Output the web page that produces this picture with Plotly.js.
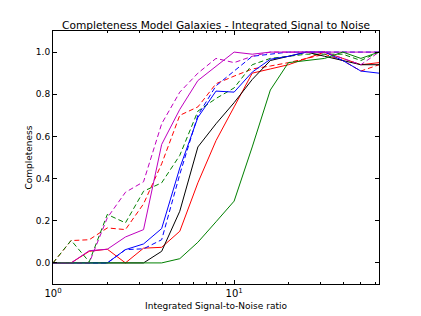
<!DOCTYPE html>
<html><head><meta charset="utf-8">
<script src="https://cdn.plot.ly/plotly-3.0.1.min.js"></script>
<style>html,body{margin:0;padding:0;background:#fff}#chart{width:421px;height:316px}</style>
</head><body><div id="chart"></div>
<script>
// S/N bin positions: 10^(0.1 k), k = 0..18
var snr = [1.0, 1.259, 1.585, 1.995, 2.512, 3.162, 3.981, 5.012, 6.310, 7.943, 10.0, 12.59, 15.85, 19.95, 25.12, 31.62, 39.81, 50.12, 63.10];

var redSolid     = [0, 0, 0.055, 0.065, 0, 0.07, 0.074, 0.15, 0.38, 0.58, 0.74, 0.90, 0.92, 0.94, 0.97, 1.0, 0.97, 0.94, 0.95];
var redDashed    = [0, 0.106, 0.11, 0.166, 0.158, 0.28, 0.47, 0.70, 0.74, 0.85, 0.886, 0.92, 0.934, 0.95, 0.97, 0.99, 0.96, 0.91, 0.94];
var greenDashed  = [0, 0.107, 0.005, 0.23, 0.19, 0.34, 0.38, 0.51, 0.72, 0.78, 0.83, 0.94, 0.97, 0.98, 0.99, 0.99, 0.99, 0.96, 1.0];
var blueSolid    = [0, 0, 0, 0, 0.063, 0.09, 0.163, 0.45, 0.69, 0.815, 0.81, 0.905, 0.966, 0.98, 1.0, 1.0, 0.96, 0.91, 0.90];
var blueDashed   = [0, 0, 0, 0, 0.063, 0.067, 0.11, 0.42, 0.70, 0.84, 0.91, 0.98, 0.99, 1.0, 1.0, 1.0, 1.0, 1.0, 1.0];
var blackSolid   = [0, 0, 0, 0, 0, 0, 0.055, 0.245, 0.55, 0.66, 0.76, 0.87, 0.96, 0.98, 1.0, 0.98, 0.96, 0.94, 0.94];
var magentaSolid = [0, 0, 0.058, 0.065, 0.123, 0.158, 0.562, 0.728, 0.865, 0.934, 1.0, 0.99, 1.0, 1.0, 1.0, 1.0, 1.0, 1.0, 1.0];
var magentaDashed= [0, 0, 0, 0.214, 0.335, 0.385, 0.66, 0.81, 0.90, 0.97, 0.95, 0.98, 1.0, 1.0, 1.0, 1.0, 0.97, 0.94, 1.0];
var greenSolid   = [0, 0, 0, 0, 0, 0, 0, 0.02, 0.098, 0.195, 0.293, 0.55, 0.82, 0.95, 0.96, 0.97, 1.0, 0.97, 1.0];

var xTickVals = [1, 10];
var xTickText = ['10<sup>0</sup>', '10<sup>1</sup>'];
var xMinor = [2,3,4,5,6,7,8,9,20,30,40,50,60];
var yTickVals = [0, 0.2, 0.4, 0.6, 0.8, 1.0];
var yTickText = ['0.0', '0.2', '0.4', '0.6', '0.8', '1.0'];

function tr(y, color, dash) {
  return {x: snr, y: y, type: 'scatter', mode: 'lines',
    line: {color: color, width: 1, dash: dash || 'solid'}, hoverinfo: 'skip'};
}
var data = [
  tr(redSolid, '#ff0000'),
  tr(redDashed, '#ff0000', '5px,3px'),
  tr(greenDashed, '#008000', '5px,3px'),
  tr(blackSolid, '#000000'),
  tr(blueSolid, '#0000ff'),
  tr(blueDashed, '#0000ff', '5px,3px'),
  tr(magentaSolid, '#bf00bf'),
  tr(magentaDashed, '#bf00bf', '5px,3px'),
  tr(greenSolid, '#008000')
];
var layout = {
  width: 421, height: 316,
  margin: {l: 53, r: 42, t: 31, b: 32},
  paper_bgcolor: '#fff', plot_bgcolor: '#fff',
  showlegend: false,
  font: {family: 'DejaVu Sans, sans-serif', size: 9, color: '#000'},
  title: {text: 'Completeness Model Galaxies - Integrated Signal to Noise',
    font: {family: 'DejaVu Sans, sans-serif', size: 10.6, color: '#000'},
    x: 0.5, xanchor: 'center', xref: 'paper', y: 1, yref: 'paper', yanchor: 'bottom', pad: {b: 2}},
  xaxis: {type: 'log', range: [0, 1.8], showgrid: false, zeroline: false,
    showline: true, linecolor: '#000', linewidth: 1, mirror: 'ticks',
    ticks: 'inside', ticklen: 4, tickcolor: '#000',
    tickmode: 'array', tickvals: xTickVals, ticktext: xTickText,
    tickfont: {family: 'DejaVu Sans, sans-serif', size: 10, color: '#000'},
    minor: {tickmode: 'array', tickvals: xMinor, ticks: 'inside', ticklen: 2, tickcolor: '#000', showgrid: false},
    title: {text: 'Integrated Signal-to-Noise ratio', standoff: 4,
      font: {family: 'DejaVu Sans, sans-serif', size: 9, color: '#000'}}},
  yaxis: {range: [-0.1, 1.1], showgrid: false, zeroline: false,
    showline: true, linecolor: '#000', linewidth: 1, mirror: 'ticks',
    ticks: 'inside', ticklen: 4, tickcolor: '#000',
    tickmode: 'array', tickvals: yTickVals, ticktext: yTickText,
    tickfont: {family: 'DejaVu Sans, sans-serif', size: 9, color: '#000'},
    title: {text: 'Completeness', standoff: 1,
      font: {family: 'DejaVu Sans, sans-serif', size: 9, color: '#000'}}}
};
Plotly.newPlot('chart', data, layout, {staticPlot: true, displayModeBar: false});
</script></body></html>
